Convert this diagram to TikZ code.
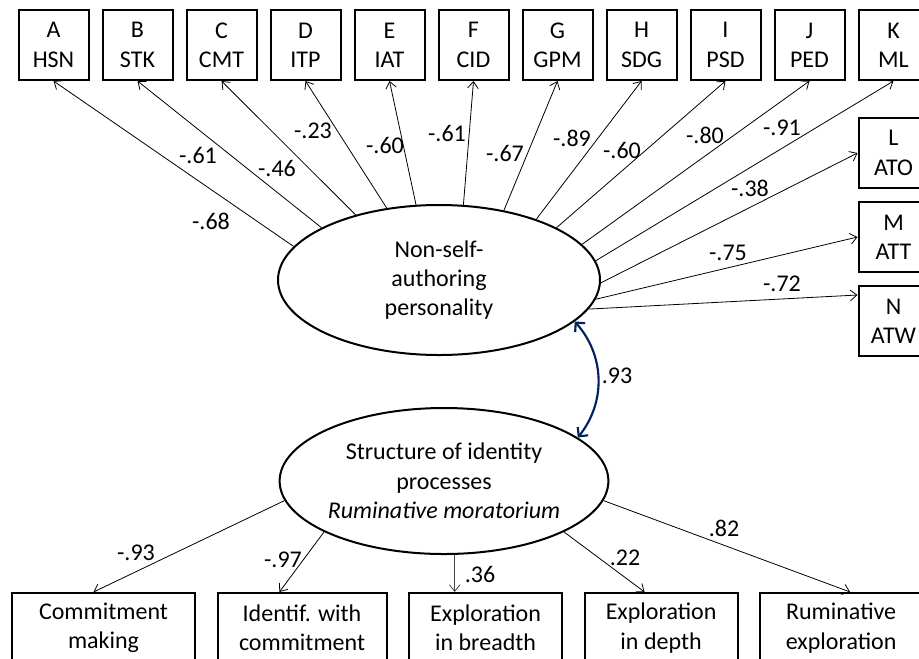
\documentclass[tikz,border=0pt]{standalone}
\usepackage{fontspec}
\setmainfont{Carlito}
\usetikzlibrary{arrows.meta,shapes,positioning}
\definecolor{navyarc}{RGB}{0,32,96}

\begin{document}
\begin{tikzpicture}[x=0.75pt,y=-0.75pt,
    font=\fontsize{18}{22}\selectfont,
    obs/.style={draw,line width=1.5pt,minimum width=52.5pt,minimum height=52.5pt,inner sep=0pt,align=center},
    ind/.style={draw,line width=1.5pt,minimum height=52.5pt,inner sep=0pt,align=center},
    lat/.style={draw,ellipse,line width=1.5pt,inner sep=0pt,align=center},
    load/.style={-{Straight Barb[length=5pt,width=8pt]},line width=0.6pt},
    coef/.style={inner sep=0pt}]
    \useasboundingbox (0,0) rectangle (919,658);
    \clip (0,0) rectangle (919,658);

    \node[obs] (A) at (53.5,45) {A\\HSN};
    \node[obs,right=9pt of A] (B) {B\\STK};
    \node[obs,right=9pt of B] (C) {C\\CMT};
    \node[obs,right=9pt of C] (D) {D\\ITP};
    \node[obs,right=9pt of D] (E) {E\\IAT};
    \node[obs,right=9pt of E] (F) {F\\CID};
    \node[obs,right=9pt of F] (G) {G\\GPM};
    \node[obs,right=9pt of G] (H) {H\\SDG};
    \node[obs,right=9pt of H] (I) {I\\PSD};
    \node[obs,right=9pt of I] (J) {J\\PED};
    \node[obs,right=9pt of J] (K) {K\\ML};
    \node[obs,below=27pt of K] (L) {L\\ATO};
    \node[obs,below=9pt of L] (M) {M\\ATT};
    \node[obs,below=9pt of M] (N) {N\\ATW};

    \node[lat,minimum width=241.5pt,minimum height=112.5pt] (nsa) at (439,280) {Non-self-\\authoring\\personality};
    \node[lat,minimum width=246pt,minimum height=109.5pt] (sip) at (444,481) {Structure of identity\\processes\\\textit{Ruminative moratorium}};

    \node[ind,minimum width=137.25pt] (cm) at (103.5,628) {Commitment\\making};
    \node[ind,minimum width=126.75pt,right=15.4pt of cm] (iwc) {Identif. with\\commitment};
    \node[ind,minimum width=114.75pt,right=15.4pt of iwc] (eib) {Exploration\\in breadth};
    \node[ind,minimum width=114.75pt,right=15.4pt of eib] (eid) {Exploration\\in depth};
    \node[ind,minimum width=121.5pt,right=15.4pt of eid] (rex) {Ruminative\\exploration};

    \draw[load] (nsa.167) -- (A.south);
    \draw[load] (nsa.156) -- (B.south);
    \draw[load] (nsa.142) -- (C.south);
    \draw[load] (nsa.126) -- (D.south);
    \draw[load] (nsa.107) -- (E.south);
    \draw[load] (nsa.72) -- (F.south);
    \draw[load] (nsa.47) -- (G.south);
    \draw[load] (nsa.32) -- (H.south);
    \draw[load] (nsa.24) -- (I.south);
    \draw[load] (nsa.14) -- (J.south);
    \draw[load] (nsa.7) -- (K.south);
    \draw[load] (nsa.-1) -- (L.west);
    \draw[load] (nsa.-7) -- (M.west);
    \draw[load] (nsa.-11) -- ([yshift=19.5pt]N.west);

    \draw[load] (sip.187) -- ([xshift=-7.5pt]cm.north);
    \draw[load] (sip.203.6) -- ([xshift=-17pt]iwc.north);
    \draw[load,black!75] ([xshift=8pt]sip.south) -- ([xshift=8pt]sip.south |- eib.north);
    \draw[load] (sip.-23.8) -- ([xshift=-12.4pt]eid.north);
    \draw[load] (sip.-7.5) -- ([xshift=6.75pt]rex.north);

    \draw[navyarc,line width=1.6pt,{Straight Barb[length=5pt,width=10pt]}-{Straight Barb[length=5pt,width=10pt]}] (nsa.-17.5) to[bend left=40] (sip.18.6);

    \node[coef] (lA) at (211,221) {-.68};
    \node[coef] (lB) at (198,155) {-.61};
    \node[coef] (lC) at (277,168) {-.46};
    \node[coef] (lD) at (313,131) {-.23};
    \node[coef] (lE) at (385,145) {-.60};
    \node[coef] (lF) at (447,133) {-.61};
    \node[coef] (lG) at (505,153) {-.67};
    \node[coef] (lH) at (572,138) {-.89};
    \node[coef] (lI) at (622,150) {-.60};
    \node[coef] (lJ) at (705,135) {-.80};
    \node[coef] (lK) at (782,128) {-.91};
    \node[coef] (lL) at (750,188) {-.38};
    \node[coef] (lM) at (728,253) {-.75};
    \node[coef] (lN) at (782,284) {-.72};
    \node[coef] (lr) at (617,376) {.93};
    \node[coef] (lcm) at (136,553) {-.93};
    \node[coef] (liwc) at (283,560) {-.97};
    \node[coef] (leib) at (480,574) {.36};
    \node[coef] (leid) at (625,558) {.22};
    \node[coef] (lrex) at (724,528) {.82};
\end{tikzpicture}
\end{document}
